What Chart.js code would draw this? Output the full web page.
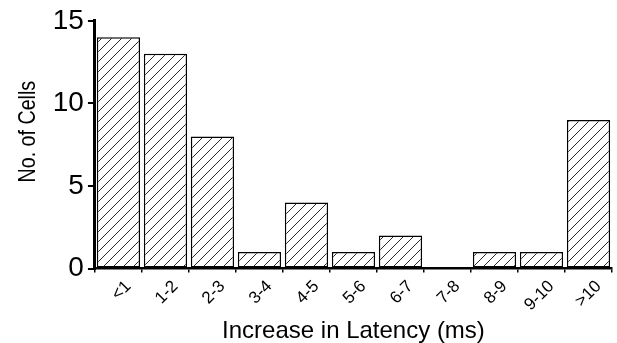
<!DOCTYPE html>
<html>
<head>
<meta charset="utf-8">
<script src="https://cdn.jsdelivr.net/npm/chart.js@4"></script>
<style>
  html, body { margin: 0; padding: 0; background: #fff; }
  #wrap { width: 617px; height: 343px; }
</style>
</head>
<body>
<div id="wrap"><canvas id="chart_latency"></canvas></div>
<script>
var categories = ["<1", "1-2", "2-3", "3-4", "4-5", "5-6", "6-7", "7-8", "8-9", "9-10", ">10"];
var cellCounts = [14, 13, 8, 1, 4, 1, 2, 0, 1, 1, 9];
var yTicks = [0, 5, 10, 15];
var yTitle = "No. of Cells";

// hatch fill "/" like the original figure
function makeHatch() {
    var size = 10;
    var c = document.createElement("canvas");
    c.width = size;
    c.height = size;
    var ctx = c.getContext("2d");
    ctx.fillStyle = "#fff";
    ctx.fillRect(0, 0, size, size);
    ctx.strokeStyle = "#111";
    ctx.lineWidth = 0.9;
    ctx.beginPath();
    ctx.moveTo(-1, size + 1);
    ctx.lineTo(size + 1, -1);
    ctx.moveTo(-1, 1);
    ctx.lineTo(1, -1);
    ctx.moveTo(size - 1, size + 1);
    ctx.lineTo(size + 1, size - 1);
    ctx.stroke();
    return ctx.createPattern(c, "repeat");
}

var font = "'Liberation Sans', Arial, Helvetica, sans-serif";

// the y title in the figure is a narrow face, set a bit above the middle
var narrowYTitle = {
    id: 'narrowYTitle',
    afterDraw: function(chart) {
        var ctx = chart.ctx;
        var y = chart.scales.y;
        var cy = (chart.chartArea.top + chart.chartArea.bottom) / 2 - 13;
        ctx.save();
        ctx.translate(y.left + 14, cy);
        ctx.rotate(-Math.PI / 2);
        ctx.scale(0.82, 1);
        ctx.font = "24px " + font;
        ctx.fillStyle = "#000";
        ctx.textAlign = "center";
        ctx.textBaseline = "middle";
        ctx.fillText(yTitle, 0, 0);
        ctx.restore();
    }
};

new Chart(document.getElementById("chart_latency"), {
    type: 'bar',
    data: {
        labels: categories,
        datasets: [{
            label: yTitle,
            data: cellCounts,
            backgroundColor: makeHatch(),
            borderColor: "#000",
            borderWidth: 1.5,
            borderSkipped: false,
            categoryPercentage: 1.0,
            barPercentage: 0.92
        }]
    },
    options: {
        responsive: true,
        maintainAspectRatio: false,
        animation: false,
        layout: { padding: { top: 0, right: 5, left: 14, bottom: 0 } },
        plugins: {
            legend: { display: false },
            tooltip: { enabled: false }
        },
        scales: {
            x: {
                grid: {
                    display: true,
                    offset: true,
                    drawOnChartArea: false,
                    drawTicks: true,
                    tickLength: 4,
                    color: "#000",
                    lineWidth: 1.5
                },
                border: { display: true, color: "#000", width: 2.5 },
                ticks: {
                    color: "#000",
                    font: { family: font, size: 17 },
                    minRotation: 45,
                    maxRotation: 45,
                    labelOffset: 10,
                    padding: 4
                },
                title: {
                    display: true,
                    text: "Increase in Latency (ms)",
                    color: "#000",
                    font: { family: font, size: 24, lineHeight: 1.0 },
                    padding: { top: 0, bottom: 0 }
                }
            },
            y: {
                min: 0,
                max: 15,
                afterBuildTicks: function(axis) {
                    axis.ticks = yTicks.map(function(v) { return { value: v }; });
                },
                grid: {
                    display: true,
                    drawOnChartArea: false,
                    drawTicks: true,
                    tickLength: 7,
                    color: "#000",
                    lineWidth: 2
                },
                border: { display: true, color: "#000", width: 3 },
                ticks: {
                    color: "#000",
                    font: { family: font, size: 28 },
                    padding: 4
                },
                title: {
                    display: true,
                    text: yTitle,
                    color: "rgba(0,0,0,0)",
                    font: { family: font, size: 24 },
                    padding: { top: 0, bottom: 6 }
                }
            }
        }
    },
    plugins: [narrowYTitle]
});
</script>
</body>
</html>
